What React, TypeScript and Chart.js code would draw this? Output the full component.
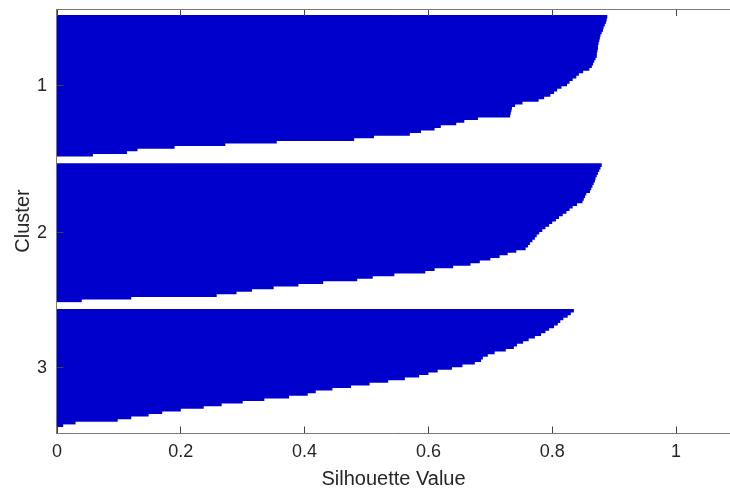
import React, { useEffect, useRef } from 'react';
import { Chart, registerables } from 'chart.js';

Chart.register(...registerables);

// Cluster names shown on the y axis
const clusterLabels = ['1', '2', '3'];

// Silhouette values, sorted within each cluster (top row first)
const cluster1Values = [
  0.889, 0.888, 0.887, 0.885, 0.883, 0.882, 0.880, 0.878, 0.877, 0.876,
  0.875, 0.874, 0.874, 0.873, 0.872, 0.872, 0.870, 0.868, 0.866, 0.864,
  0.860, 0.850, 0.843, 0.839, 0.833, 0.828, 0.824, 0.815, 0.808, 0.803,
  0.797, 0.787, 0.778, 0.752, 0.740, 0.735, 0.734, 0.733, 0.732, 0.680,
  0.658, 0.645, 0.620, 0.610, 0.588, 0.570, 0.512, 0.480, 0.355, 0.272,
  0.190, 0.130, 0.113, 0.058,
];

const cluster2Values = [
  0.880, 0.878, 0.876, 0.874, 0.872, 0.870, 0.869, 0.867, 0.865, 0.863,
  0.861, 0.855, 0.853, 0.851, 0.849, 0.840, 0.833, 0.828, 0.823, 0.817,
  0.811, 0.806, 0.800, 0.795, 0.789, 0.784, 0.779, 0.775, 0.772, 0.768,
  0.764, 0.761, 0.757, 0.742, 0.728, 0.715, 0.700, 0.683, 0.668, 0.640,
  0.610, 0.595, 0.545, 0.510, 0.485, 0.430, 0.390, 0.350, 0.315, 0.290,
  0.258, 0.120, 0.040,
];

const cluster3Values = [
  0.835, 0.830, 0.825, 0.818, 0.813, 0.809, 0.803, 0.795, 0.789, 0.782,
  0.772, 0.762, 0.753, 0.743, 0.738, 0.725, 0.707, 0.696, 0.688, 0.685,
  0.675, 0.655, 0.638, 0.615, 0.600, 0.585, 0.562, 0.535, 0.505, 0.475,
  0.445, 0.418, 0.405, 0.375, 0.335, 0.300, 0.266, 0.237, 0.200, 0.170,
  0.148, 0.120, 0.098, 0.030, 0.010,
];

const xTickValues = [0, 0.2, 0.4, 0.6, 0.8, 1];
const xAxisMin = 0;
const xAxisMax = 1.0872;
const xAxisTitle = 'Silhouette Value';
const yAxisTitle = 'Cluster';
const gapRows = 3;

const BAR_COLOR = '#0000cc';
const TEXT_COLOR = '#262626';
const FONT_FAMILY = '"Liberation Sans", Arial, Helvetica, sans-serif';

function buildRows() {
  const clusters = [cluster1Values, cluster2Values, cluster3Values];
  const points: { x: number; y: number }[] = [];
  const centers: number[] = [];
  let row = gapRows;
  clusters.forEach((vals) => {
    const start = row + 1;
    vals.forEach((v, i) => points.push({ x: v, y: start + i }));
    centers.push(start + (vals.length - 1) / 2);
    row = start + vals.length - 1 + gapRows;
  });
  return { points, centers, totalRows: row };
}

export default function App() {
  const canvasRef = useRef<HTMLCanvasElement | null>(null);

  useEffect(() => {
    const canvas = canvasRef.current;
    if (!canvas) return;
    const { points, centers, totalRows } = buildRows();

    const axesPlugin = {
      id: 'matlabAxes',
      afterDraw(chart: any) {
        const { ctx, chartArea: a } = chart;
        const xs = chart.scales.x;
        const ys = chart.scales.y;
        ctx.save();
        ctx.lineWidth = 1;
        ctx.strokeStyle = '#7a7a7a';
        ctx.beginPath();
        ctx.moveTo(a.left - 0.5, a.top + 0.5);
        ctx.lineTo(a.right, a.top + 0.5);
        ctx.moveTo(a.left - 0.5, a.top);
        ctx.lineTo(a.left - 0.5, a.bottom + 1);
        ctx.moveTo(a.left - 0.5, a.bottom + 0.5);
        ctx.lineTo(a.right, a.bottom + 0.5);
        ctx.stroke();

        ctx.strokeStyle = '#404040';
        ctx.beginPath();
        xTickValues.forEach((v) => {
          const px = Math.floor(xs.getPixelForValue(v)) + 0.5;
          ctx.moveTo(px, a.bottom);
          ctx.lineTo(px, a.bottom - 6.5);
          ctx.moveTo(px, a.top + 1);
          ctx.lineTo(px, a.top + 7);
        });
        centers.forEach((c) => {
          const py = Math.floor(ys.getPixelForValue(c)) + 0.5;
          ctx.moveTo(a.left, py);
          ctx.lineTo(a.left + 6.5, py);
        });
        ctx.stroke();
        ctx.restore();
      },
    };

    const chart = new Chart(canvas, {
      type: 'bar',
      data: {
        datasets: [
          {
            data: points as any,
            backgroundColor: BAR_COLOR,
            borderWidth: 0,
            barPercentage: 1.4,
            categoryPercentage: 1,
            inflateAmount: 0,
          } as any,
        ],
      },
      options: {
        indexAxis: 'y',
        animation: false,
        responsive: false,
        maintainAspectRatio: false,
        layout: { padding: { top: 9, right: 0, bottom: 0, left: 0 } },
        plugins: {
          legend: { display: false },
          tooltip: { enabled: false },
        },
        scales: {
          x: {
            type: 'linear',
            position: 'bottom',
            min: xAxisMin,
            max: xAxisMax,
            offset: false,
            grid: { display: false, drawTicks: false },
            border: { display: false },
            afterBuildTicks: (s: any) => {
              s.ticks = xTickValues.map((v) => ({ value: v }));
            },
            ticks: {
              autoSkip: false,
              maxRotation: 0,
              padding: 8,
              color: TEXT_COLOR,
              font: { family: FONT_FAMILY, size: 18 },
              callback: (v: any) => String(Math.round(Number(v) * 10) / 10),
            },
            title: {
              display: true,
              text: xAxisTitle,
              color: TEXT_COLOR,
              font: { family: FONT_FAMILY, size: 20, lineHeight: 1 },
              padding: { top: 0, bottom: 0 },
            },
            afterFit: (s: any) => {
              s.height = 56;
              s.paddingLeft = 0;
              s.paddingRight = 0;
            },
          },
          y: {
            type: 'linear',
            reverse: true,
            min: 1,
            max: totalRows,
            offset: false,
            grid: { display: false, drawTicks: false },
            border: { display: false },
            afterBuildTicks: (s: any) => {
              s.ticks = centers.map((c) => ({ value: c }));
            },
            ticks: {
              autoSkip: false,
              padding: 10,
              color: TEXT_COLOR,
              font: { family: FONT_FAMILY, size: 18 },
              callback: (_v: any, i: number) => clusterLabels[i],
            },
            title: {
              display: true,
              text: yAxisTitle,
              color: TEXT_COLOR,
              font: { family: FONT_FAMILY, size: 20, lineHeight: 1 },
              padding: { top: 13, bottom: 0 },
            },
            afterFit: (s: any) => {
              s.width = 57;
              s.paddingTop = 0;
              s.paddingBottom = 0;
            },
          },
        },
      },
      plugins: [axesPlugin],
    });

    return () => chart.destroy();
  }, []);

  return (
    <div style={{ position: 'absolute', left: 0, top: 0, width: 730, height: 489, background: '#fff' }}>
      <canvas ref={canvasRef} width={730} height={489} style={{ display: 'block', width: 730, height: 489 }} />
    </div>
  );
}
